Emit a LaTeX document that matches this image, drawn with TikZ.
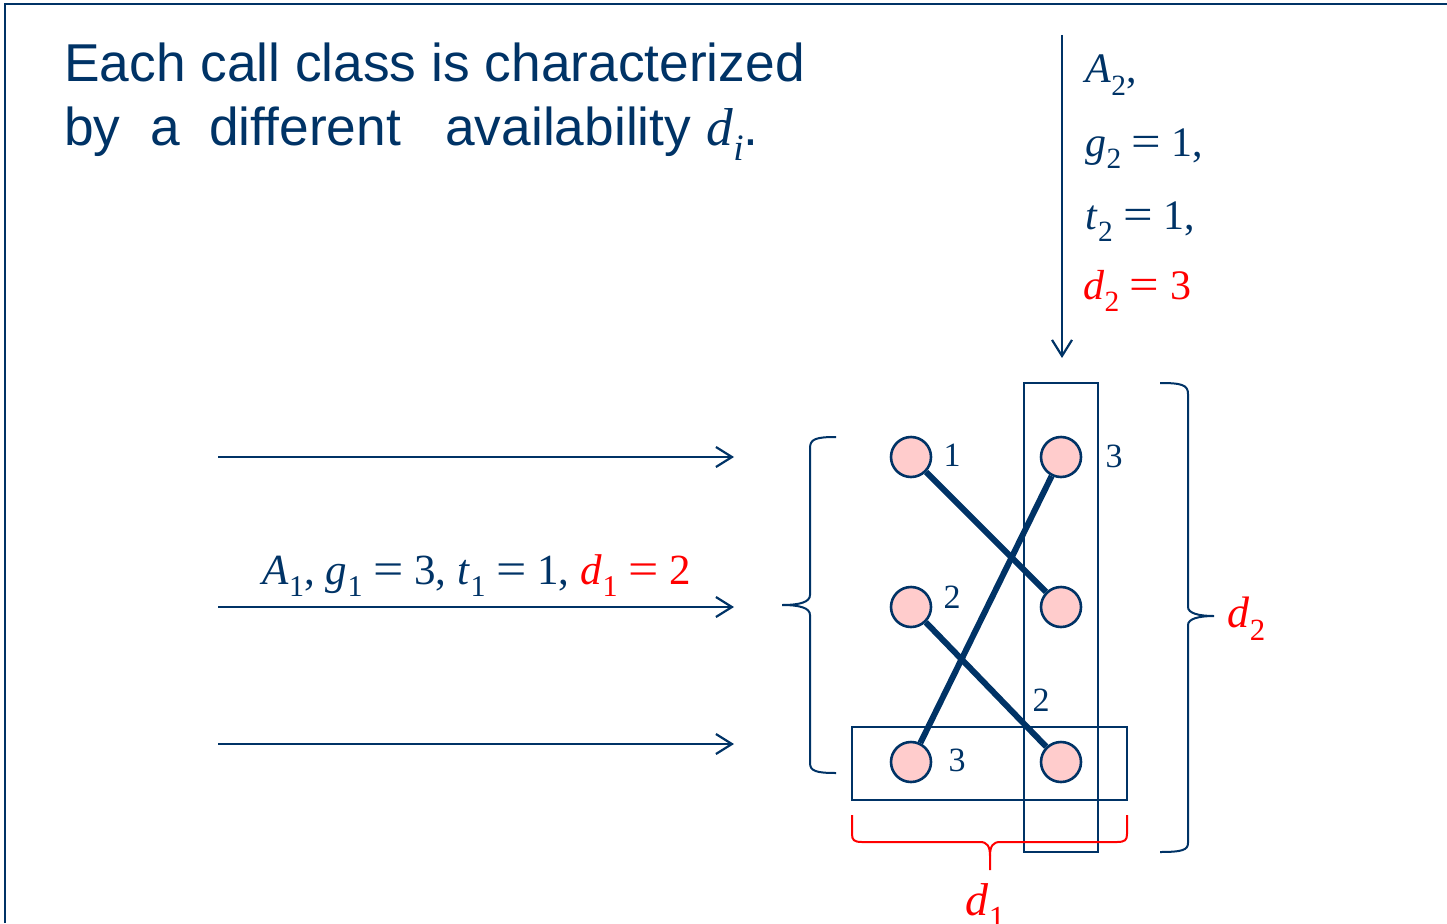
\documentclass[tikz,border=0pt]{standalone}
\usepackage{fontspec}
\setmainfont{Liberation Serif}
\setsansfont{Liberation Sans}
\usetikzlibrary{arrows.meta}
\definecolor{navy}{RGB}{0,51,102}
\definecolor{pinkf}{RGB}{255,204,204}
\definecolor{redc}{RGB}{255,0,0}
\newcommand{\vsub}[2]{\textit{#1}\kern0.01em\raisebox{-0.3em}{\scalebox{0.7}{#2}}}
\newcommand{\eqs}{\kern0.25em\scalebox{1.25}[1.05]{=}\kern0.25em}
\tikzset{
  thin/.style={draw=navy, line width=2pt},
  arr/.style={navy, line width=2.2pt, -{Straight Barb[length=16pt,width=20pt,line width=2.2pt]}},
  dot/.style={circle, draw=navy, fill=pinkf, line width=2.6pt, minimum size=40pt, inner sep=0pt},
  link/.style={navy, line width=6pt},
  numlab/.style={text=navy, font=\fontsize{34}{40}\selectfont, inner sep=0pt},
  brace/.style={draw=navy, line width=2pt},
  rbrace/.style={draw=redc, line width=2pt},
  mathlab/.style={text=navy, font=\fontsize{43}{50}\selectfont, inner sep=0pt, anchor=base west},
  rlab/.style={text=navy, font=\fontsize{42}{50}\selectfont, inner sep=0pt, anchor=base west},
  title/.style={text=navy, font=\sffamily\fontsize{53.3}{60}\selectfont, inner sep=0pt, anchor=base west}
}
\begin{document}
\begin{tikzpicture}[x=1pt,y=-1pt]
\useasboundingbox (0,0) rectangle (1447,923);
% frame
\draw[navy, line width=2.6pt] (5,923) -- (5,4) -- (1447,4);
% title
\node[title] (t1) at (64,82) {Each call class is characterized};
\node[title] (t2) at (64,145) {by\ \ a\ \ different\ \ \ availability {\rmfamily\vsub{d}{\textit{i}}}.};
% right labels
\node[rlab] (r1) at (1085,83) {\vsub{A}{2},};
\node[rlab] (r2) at (1085,156) {\vsub{g}{2}\eqs 1,};
\node[rlab] (r3) at (1085,229) {\vsub{t}{2}\eqs 1,};
\node[rlab, text=redc] (r4) at (1083,299) {\vsub{d}{2}\eqs 3};
% top arrow
\coordinate (ta) at (1062,35);
\coordinate (tb) at (1062,358);
\draw[arr] (ta) -- (tb);
% horizontal arrows
\coordinate (a1s) at (218,457); \coordinate (a1e) at (734,457);
\coordinate (a2s) at (218,607); \coordinate (a2e) at (734,607);
\coordinate (a3s) at (218,744); \coordinate (a3e) at (734,744);
\draw[arr] (a1s) -- (a1e);
\draw[arr] (a2s) -- (a2e);
\draw[arr] (a3s) -- (a3e);
\node[mathlab] (l1) at (262,584) {\vsub{A}{1}, \vsub{g}{1}\eqs 3, \vsub{t}{1}\eqs 1, \textcolor{redc}{\vsub{d}{1}\eqs 2}};
% boxes
\draw[thin] (1024,383) rectangle (1098,852);
\draw[thin] (852,727) rectangle (1127,800);
% circles
\node[dot] (c1) at (911,457) {};
\node[dot] (c2) at (1061,457) {};
\node[dot] (c3) at (911,607) {};
\node[dot] (c4) at (1061,607) {};
\node[dot] (c5) at (911,762) {};
\node[dot] (c6) at (1061,762) {};
\draw[link] (c1) -- (c4);
\draw[link] (c2) -- (c5);
\draw[link] (c3) -- (c6);
% numbers
\node[numlab] (n1) at (952,455) {1};
\node[numlab] (n2) at (1114,456) {3};
\node[numlab] (n3) at (952,597) {2};
\node[numlab] (n4) at (957,760) {3};
\node[numlab] (n5) at (1041,700) {2};
% left brace
\draw[brace] (836,437) .. controls (816,437) and (810,439) .. (810,448) -- (810,595)
  .. controls (810,602) and (800,605) .. (782,605)
  .. controls (800,605) and (810,608) .. (810,615) -- (810,763)
  .. controls (810,771) and (816,773) .. (836,773);
% right brace
\draw[brace] (1160,383) .. controls (1182,383) and (1188,385) .. (1188,394) -- (1188,607)
  .. controls (1188,613) and (1198,616) .. (1214,616)
  .. controls (1198,616) and (1188,619) .. (1188,625) -- (1188,843)
  .. controls (1188,850) and (1182,852) .. (1160,852);
\node[rlab, text=redc, font=\fontsize{44}{50}\selectfont] (d2) at (1227,627) {\vsub{d}{2}};
% bottom red brace
\draw[rbrace] (852,815) -- (852,834) .. controls (852,840) and (854,842) .. (862,842) -- (980,842)
  .. controls (987,842) and (990,846) .. (990,856) -- (990,870);
\draw[rbrace] (1127,815) -- (1127,834) .. controls (1127,840) and (1125,842) .. (1117,842) -- (1000,842)
  .. controls (993,842) and (990,846) .. (990,856);
\node[rlab, text=redc, font=\fontsize{46}{50}\selectfont] (d1) at (965,915) {\vsub{d}{1}};
\end{tikzpicture}
\end{document}
